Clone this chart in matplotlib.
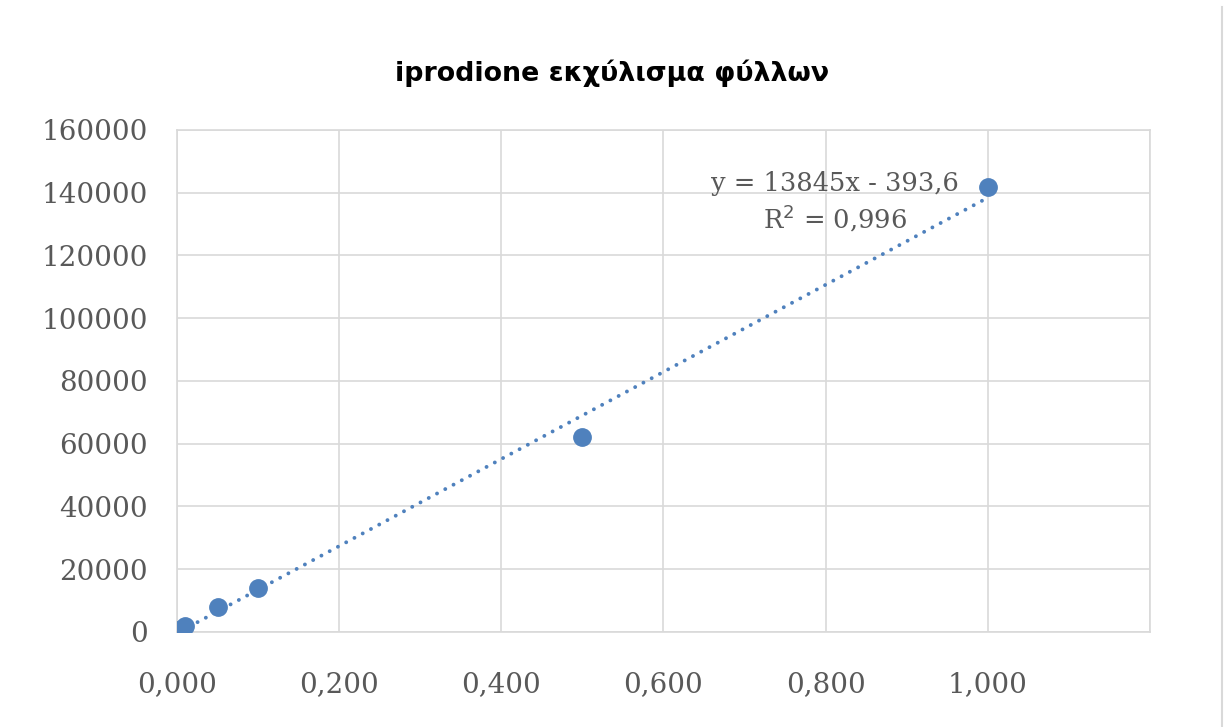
import numpy as np
import matplotlib.pyplot as plt
from matplotlib.lines import Line2D

# data
conc = [0.005, 0.01, 0.05, 0.1, 0.5, 1.0]
area = [1000, 2000, 8000, 14000, 62000, 141800]

# trendline label as printed on the chart
eq_text = "y = 13845x - 393,6"
r2_text = "0,996"

x_ticks = [0.0, 0.2, 0.4, 0.6, 0.8, 1.0]
x_tick_labels = ["0,000", "0,200", "0,400", "0,600", "0,800", "1,000"]
y_ticks = [0, 20000, 40000, 60000, 80000, 100000, 120000, 140000, 160000]

blue = "#4F81BD"
grid_col = "#D9D9D9"
text_col = "#595959"

fig = plt.figure(figsize=(12.24, 7.27), dpi=100)
ax = fig.add_axes([0.1446, 0.1307, 0.7949, 0.6905])

# linear trendline fitted to the points
k, b = np.polyfit(conc, area, 1)
xs = np.array([min(conc), max(conc)])
ax.plot(xs, k * xs + b, linestyle=(0, (0.01, 2.4)), color=blue, linewidth=2.8,
        dash_capstyle='round', zorder=2)
ax.plot(conc, area, 'o', color=blue, markersize=12.5, zorder=3)

ax.set_xlim(0, 1.2)
ax.set_ylim(0, 160000)
ax.set_xticks(x_ticks)
ax.set_xticklabels(x_tick_labels)
ax.set_yticks(y_ticks)
ax.set_yticklabels([str(v) for v in y_ticks])
ax.set_xticks([1.2], minor=True)
ax.grid(True, which='both', color=grid_col, linewidth=1.2)
ax.tick_params(which='both', length=0)
ax.tick_params(axis='x', labelsize=20, labelcolor=text_col, pad=28)
ax.tick_params(axis='y', labelsize=20, labelcolor=text_col, pad=21)
for lab in ax.get_xticklabels() + ax.get_yticklabels():
    lab.set_fontfamily('DejaVu Serif')
for s in ax.spines.values():
    s.set_color(grid_col)
    s.set_linewidth(1.2)
ax.set_axisbelow(True)

ax.text(0.812, 142800, eq_text, ha='center', va='center',
        fontsize=18.5, color=text_col, family='DejaVu Serif')
ax.text(0.812, 132000, "R$^2$ = " + r2_text, ha='center', va='center',
        fontsize=18.5, color=text_col, family='DejaVu Serif')

fig.text(0.5, 0.8996, "iprodione εκχύλισμα φύλλων", ha='center', va='center',
         fontsize=19.4, fontweight='bold', family='DejaVu Sans')

fig.add_artist(Line2D([0.9984, 0.9984], [0, 0.99], color=grid_col, linewidth=1.5))

fig.savefig("out.png", dpi=100)
